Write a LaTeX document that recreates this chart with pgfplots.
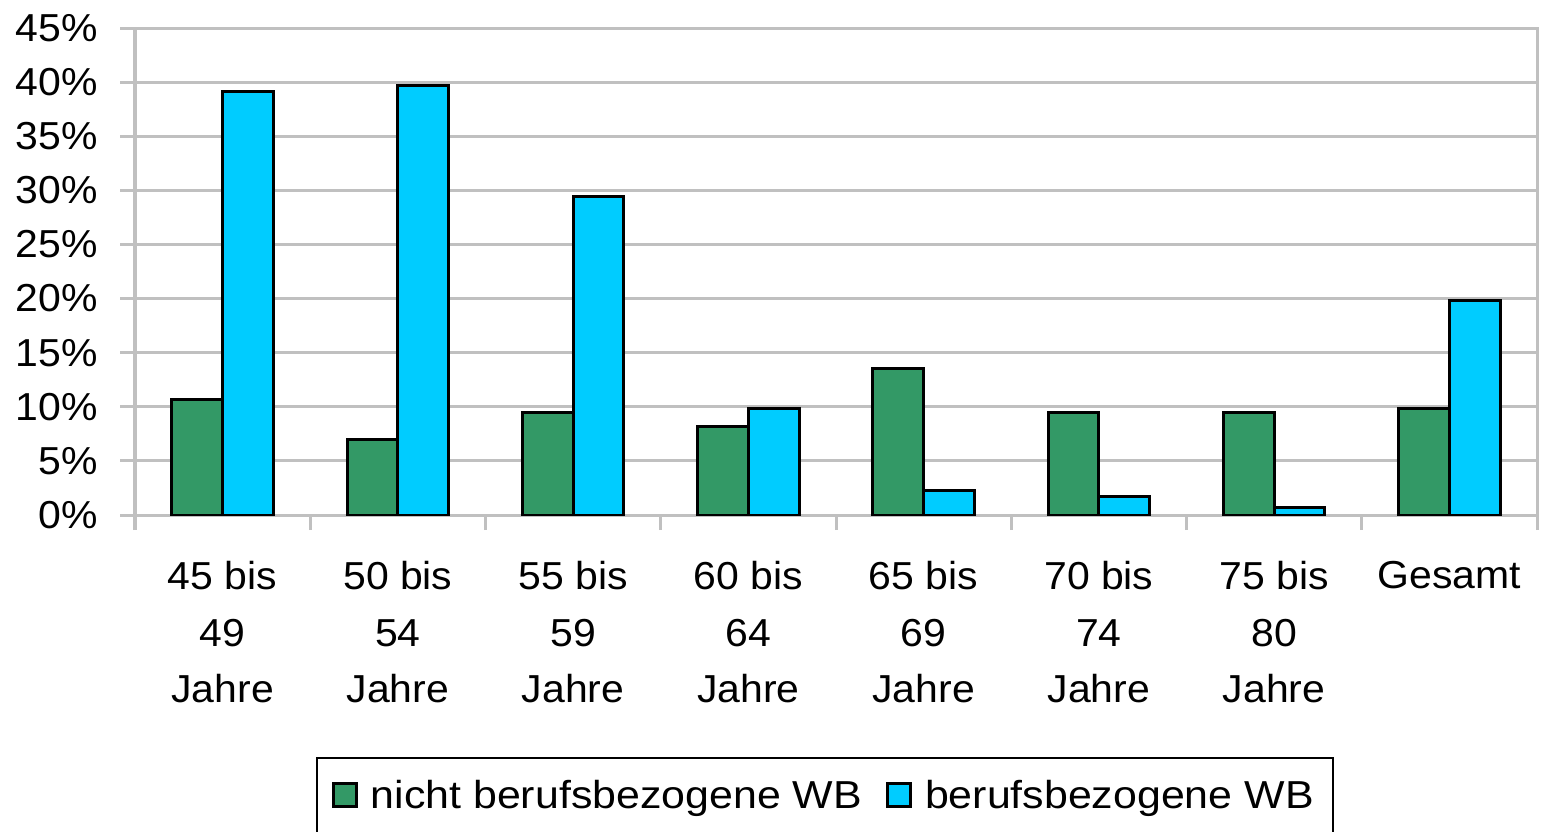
\documentclass[border=0pt]{standalone}
\usepackage{fontspec}
\setmainfont{Liberation Sans}[FakeStretch=1.05]
\newfontfamily\legendfont{Liberation Sans}[FakeStretch=1.1]
\usepackage{pgfplots}
\pgfplotsset{compat=1.18}

\definecolor{wbgreen}{RGB}{51,153,102}
\definecolor{wbblue}{RGB}{0,204,255}
\definecolor{gridgray}{RGB}{192,192,192}

\begin{document}
\begin{tikzpicture}
  \begin{axis}[
    scale only axis,
    width=701pt,
    height=243.5pt,
    ybar=0pt,
    bar width=0.29,
    % x axis
    xmin=-0.5, xmax=7.5,
    xtick={0,...,7},
    xticklabels={{45 bis\\49\\Jahre},{50 bis\\54\\Jahre},{55 bis\\59\\Jahre},
                 {60 bis\\64\\Jahre},{65 bis\\69\\Jahre},{70 bis\\74\\Jahre},
                 {75 bis\\80\\Jahre},{Gesamt}},
    minor xtick={-0.5,0.5,...,7.5},
    major x tick style={draw=none},
    xticklabel style={align=center, font=\fontsize{19.5}{28.35}\selectfont, yshift=-12pt},
    % y axis
    ymin=0, ymax=45,
    ytick={0,5,...,45},
    yticklabel={\pgfmathprintnumber{\tick}\%},
    yticklabel style={font=\fontsize{19.5}{23}\selectfont, xshift=-7.5pt},
    /pgf/number format/assume math mode=true,
    % look
    ymajorgrids,
    grid style={gridgray, line width=1.5pt},
    axis line style={gridgray, line width=1.5pt},
    tick style={gridgray, line width=1.5pt},
    tick align=outside,
    tick pos=left,
    major tick length=7.5pt,
    minor tick length=7.5pt,
    % legend
    legend columns=2,
    legend style={
      at={(0.492,-0.497)}, anchor=north,
      draw=black, line width=1.2pt,
      font=\legendfont\fontsize{19.5}{23}\selectfont,
      inner xsep=7.5pt, inner ysep=9pt,
      /tikz/every even column/.append style={column sep=10pt},
    },
    legend image code/.code={
      \draw[#1, line width=1.5pt] (0pt,-5.5pt) rectangle (11.5pt,6pt);
      \path (16pt,0pt);
    },
  ]

    % nicht berufsbezogene WB
    \addplot[draw=black, line width=1.5pt, fill=wbgreen] coordinates {
      (0, 10.7)
      (1, 7.0)
      (2, 9.5)
      (3, 8.2)
      (4, 13.5)
      (5, 9.5)
      (6, 9.5)
      (7, 9.8)
    };
    % berufsbezogene WB
    \addplot[draw=black, line width=1.5pt, fill=wbblue] coordinates {
      (0, 39.1)
      (1, 39.7)
      (2, 29.4)
      (3, 9.8)
      (4, 2.3)
      (5, 1.7)
      (6, 0.7)
      (7, 19.8)
    };

    \legend{nicht berufsbezogene WB, berufsbezogene WB}
  \end{axis}
  \pgfresetboundingbox
  \path[use as bounding box]
    ([xshift=-67.5pt, yshift=-158pt]current axis.south west)
    rectangle ([xshift=2.5pt, yshift=14pt]current axis.north east);
\end{tikzpicture}
\end{document}
